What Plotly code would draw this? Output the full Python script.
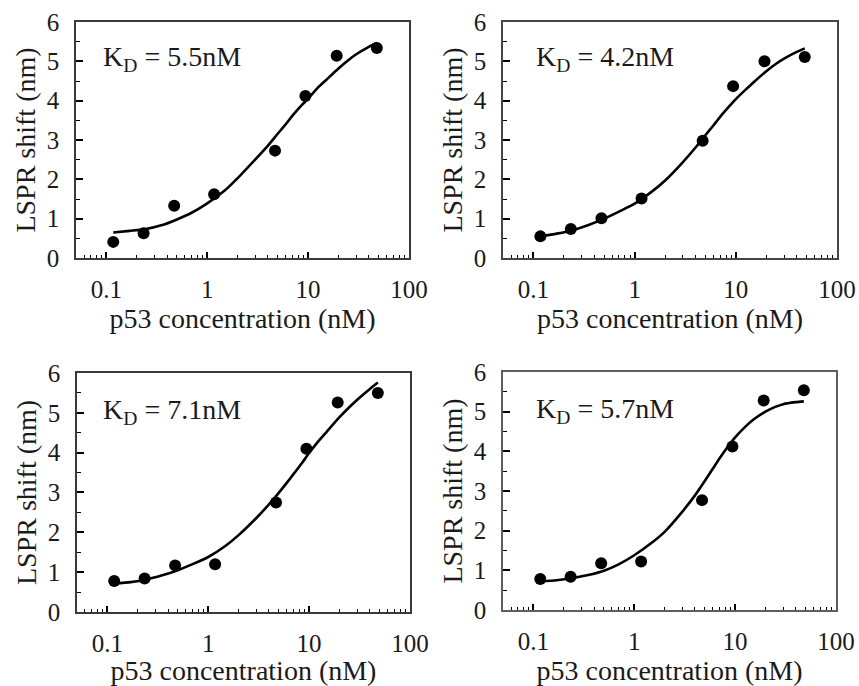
import plotly.graph_objects as go

# ---------------- data ----------------
conc = [0.117, 0.234, 0.47, 1.17, 4.7, 9.4, 19.2, 48]
shift_a = [0.41, 0.63, 1.33, 1.62, 2.73, 4.12, 5.14, 5.34]
shift_b = [0.55, 0.74, 1.01, 1.51, 2.98, 4.37, 5.00, 5.11]
shift_c = [0.78, 0.84, 1.17, 1.20, 2.75, 4.10, 5.26, 5.50]
shift_d = [0.78, 0.84, 1.18, 1.22, 2.77, 4.12, 5.28, 5.54]

fit_x = [0.117, 0.17, 0.24, 0.35, 0.5, 0.7, 1, 1.5, 2, 3, 4, 5, 6, 7, 8.5,
         10, 12.5, 15, 20, 25, 30, 40, 48]
fit_a = [0.65, 0.69, 0.73, 0.83, 0.98, 1.15, 1.39, 1.72, 2.03, 2.51, 2.86, 3.16,
         3.40, 3.62, 3.87, 4.05, 4.33, 4.52, 4.82, 5.03, 5.18, 5.37, 5.47]
fit_b = [0.55, 0.62, 0.70, 0.84, 1.00, 1.18, 1.38, 1.70, 1.97, 2.44, 2.81, 3.12,
         3.37, 3.59, 3.84, 4.04, 4.28, 4.47, 4.75, 4.94, 5.07, 5.24, 5.33]
fit_c = [0.71, 0.75, 0.81, 0.92, 1.05, 1.20, 1.38, 1.67, 1.93, 2.36, 2.70, 2.99,
         3.24, 3.46, 3.74, 3.99, 4.30, 4.53, 4.89, 5.14, 5.33, 5.60, 5.76]
fit_d = [0.72, 0.75, 0.80, 0.88, 0.99, 1.15, 1.38, 1.70, 1.97, 2.48, 2.89, 3.25,
         3.56, 3.82, 4.12, 4.35, 4.61, 4.79, 5.00, 5.12, 5.19, 5.24, 5.26]

kd_labels = ["K<sub>D</sub> = 5.5nM", "K<sub>D</sub> = 4.2nM",
             "K<sub>D</sub> = 7.1nM", "K<sub>D</sub> = 5.7nM"]

x_major = [0.1, 1, 10, 100]
x_major_text = ["0.1", "1", "10", "100"]
x_minor = [0.06, 0.07, 0.08, 0.09, 0.2, 0.3, 0.4, 0.5, 0.6, 0.7, 0.8, 0.9,
           2, 3, 4, 5, 6, 7, 8, 9, 20, 30, 40, 50, 60, 70, 80, 90]

x_title = "p53 concentration (nM)"
y_title = "LSPR shift (nm)"

# ---------------- layout ----------------
FONT = "Liberation Serif"
TXT = "#1a1a1a"
frame_colors = ["#3a3a3a", "#454545", "#3a3a3a", "#5e5e5e"]

domains = [
    ([0.0885, 0.4761], [0.6239, 0.9679]),
    ([0.5856, 0.9744], [0.6239, 0.9679]),
    ([0.0896, 0.4773], [0.1079, 0.4563]),
    ([0.5856, 0.9732], [0.1108, 0.4577]),
]
ann_pos = [(0.076, 0.845), (0.094, 0.845), (0.073, 0.84), (0.094, 0.84)]

series = [(shift_a, fit_a), (shift_b, fit_b), (shift_c, fit_c), (shift_d, fit_d)]

fig = go.Figure()
layout = dict(
    width=859, height=686, autosize=False,
    margin=dict(l=0, r=0, t=0, b=0, pad=0, autoexpand=False),
    paper_bgcolor="white", plot_bgcolor="white",
    showlegend=False,
    font=dict(family=FONT, color=TXT, size=25),
)
annotations = []

xr = [-1.301, 2.0]
for k in range(4):
    main_i = 2 * k + 1
    top_i = 2 * k + 2
    xname = "x" if main_i == 1 else f"x{main_i}"
    yname = "y" if main_i == 1 else f"y{main_i}"
    xkey = "xaxis" if main_i == 1 else f"xaxis{main_i}"
    ykey = "yaxis" if main_i == 1 else f"yaxis{main_i}"
    dx, dy = domains[k]
    pts, fit = series[k]
    lc = frame_colors[k]

    fig.add_trace(go.Scatter(x=fit_x, y=fit, mode="lines",
                             line=dict(color="black", width=2.6, shape="spline", smoothing=0.6),
                             xaxis=xname, yaxis=yname, hoverinfo="skip"))
    fig.add_trace(go.Scatter(x=conc, y=pts, mode="markers",
                             marker=dict(color="black", size=12),
                             xaxis=xname, yaxis=yname))

    layout[xkey] = dict(
        domain=dx, anchor=yname, type="log", range=xr, automargin=False,
        tickmode="array", tickvals=x_major, ticktext=x_major_text,
        ticks="inside", ticklen=6, tickwidth=1.5, tickcolor="black",
        minor=dict(tickmode="array", tickvals=x_minor, ticks="inside",
                   ticklen=3, tickwidth=1.2, tickcolor="black", showgrid=False),
        showline=True, mirror=True, linecolor=lc, linewidth=1.5,
        showgrid=False, zeroline=False,
        tickfont=dict(size=25, family=FONT, color=TXT),
        ticklabelstandoff=8,
        title=dict(text=x_title, font=dict(size=28, family=FONT, color=TXT), standoff=2),
    )
    layout[f"xaxis{top_i}"] = dict(
        overlaying=xname, anchor=yname, side="top", type="log", range=xr,
        automargin=False,
        tickmode="array", tickvals=[0.1, 1, 10],
        ticks="inside", ticklen=6, tickwidth=1.5, tickcolor="black",
        showticklabels=False, showline=False, showgrid=False, zeroline=False,
    )
    layout[ykey] = dict(
        domain=dy, anchor=xname, range=[0, 6], automargin=False,
        tickmode="linear", tick0=0, dtick=1,
        ticks="inside", ticklen=7, tickwidth=1.5, tickcolor="black",
        minor=dict(dtick=0.5, ticks="inside", ticklen=4, tickwidth=1.2,
                   tickcolor="black", showgrid=False),
        showline=True, mirror=True, linecolor=lc, linewidth=1.5,
        showgrid=False, zeroline=False,
        tickfont=dict(size=25, family=FONT, color=TXT),
        ticklabelstandoff=10,
        title=dict(text=y_title, font=dict(size=28, family=FONT, color=TXT), standoff=3),
    )
    layout[f"yaxis{top_i}"] = dict(
        overlaying=yname, anchor=xname, side="right", range=[0, 6],
        automargin=False,
        tickmode="array", tickvals=[1, 2, 3, 4, 5],
        ticks="inside", ticklen=7, tickwidth=1.5, tickcolor="black",
        showticklabels=False, showline=False, showgrid=False, zeroline=False,
    )
    ax, ay = ann_pos[k]
    annotations.append(dict(
        text=kd_labels[k], xref=f"{xname} domain", yref=f"{yname} domain",
        x=ax, y=ay, xanchor="left", yanchor="middle", showarrow=False,
        font=dict(size=28, family=FONT, color=TXT),
    ))

layout["annotations"] = annotations
fig.update_layout(**layout)
fig.write_html("out.html")
